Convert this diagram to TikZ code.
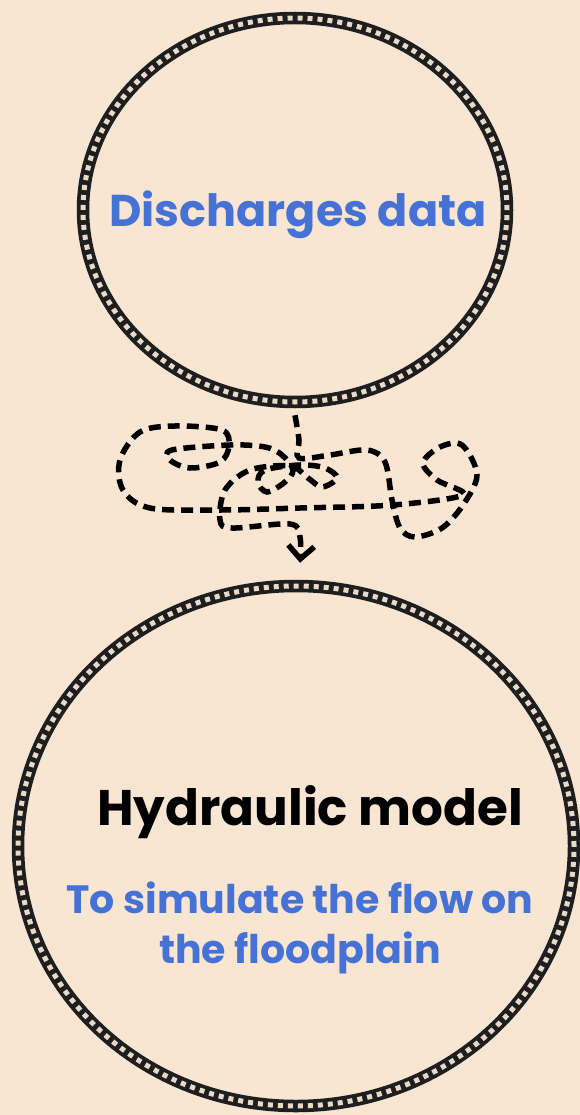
\documentclass[tikz,border=0pt]{standalone}
\usepackage{fontspec}
\setmainfont{Poppins}
\usetikzlibrary{shapes.geometric,arrows.meta}
\definecolor{bg}{HTML}{F8E6D3}
\definecolor{ringc}{HTML}{1E1E1E}
\definecolor{holec}{HTML}{E9D9C8}
\definecolor{txtblue}{HTML}{4672D6}
\begin{document}
\begin{tikzpicture}[x=1pt,y=-1pt,
  ringnode/.style 2 args={ellipse, draw=ringc, line width=12.5pt, inner sep=0pt,
    minimum width=#1, minimum height=#2,
    postaction={draw=holec, line width=5pt, dash pattern=on 5pt off 5pt}},
  bluetext/.style={text=txtblue, font=\bfseries\fontsize{#1}{#1}\selectfont, anchor=base},
  blacktext/.style={text=black, font=\bfseries\fontsize{#1}{#1}\selectfont, anchor=base},
  squiggle/.style={line width=5.5pt, dash pattern=on 12pt off 7pt, black,
    -{Straight Barb[length=13pt,width=26pt,line width=5.5pt]}}]
\fill[bg] (0,0) rectangle (580,1115);
\useasboundingbox (0,0) rectangle (580,1115);

\node[ringnode={424pt}{384pt}] (top) at (295,210) {};
\node[ringnode={556pt}{520pt}] (bot) at (296,846) {};

\node[bluetext=44.5pt] (t1) at (298,226) {Discharges data};
\node[blacktext=50pt] (t2) at (310,825) {Hydraulic model};
\node[bluetext=39.5pt] (t3) at (300,913) {To simulate the flow on};
\node[bluetext=39.5pt] (t4) at (300,963) {the floodplain};

\draw[squiggle] plot[smooth, tension=0.55] coordinates {
  ([yshift=-7pt]top.south) (299,440) (299,458) (330,455) (367,450) (385,462)
  (392,500) (400,528) (415,537) (442,528) (463,505) (477,475) (462,445)
  (440,447) (423,463) (437,480) (463,495) (393,505) (300,508) (220,510)
  (150,508) (123,490) (120,460) (140,432) (175,426) (222,430) (229,446)
  (220,462) (190,468) (170,460) (172,450) (230,445) (265,447) (282,455)
  (293,470) (285,482) (267,492) (258,482) (265,470) (300,465) (325,468)
  (337,478) (322,487) (308,478) (290,466) (250,470) (225,490) (220,520)
  (232,528) (290,524) (300,537) ([xshift=4pt,yshift=17pt]bot.north)};
\end{tikzpicture}
\end{document}
